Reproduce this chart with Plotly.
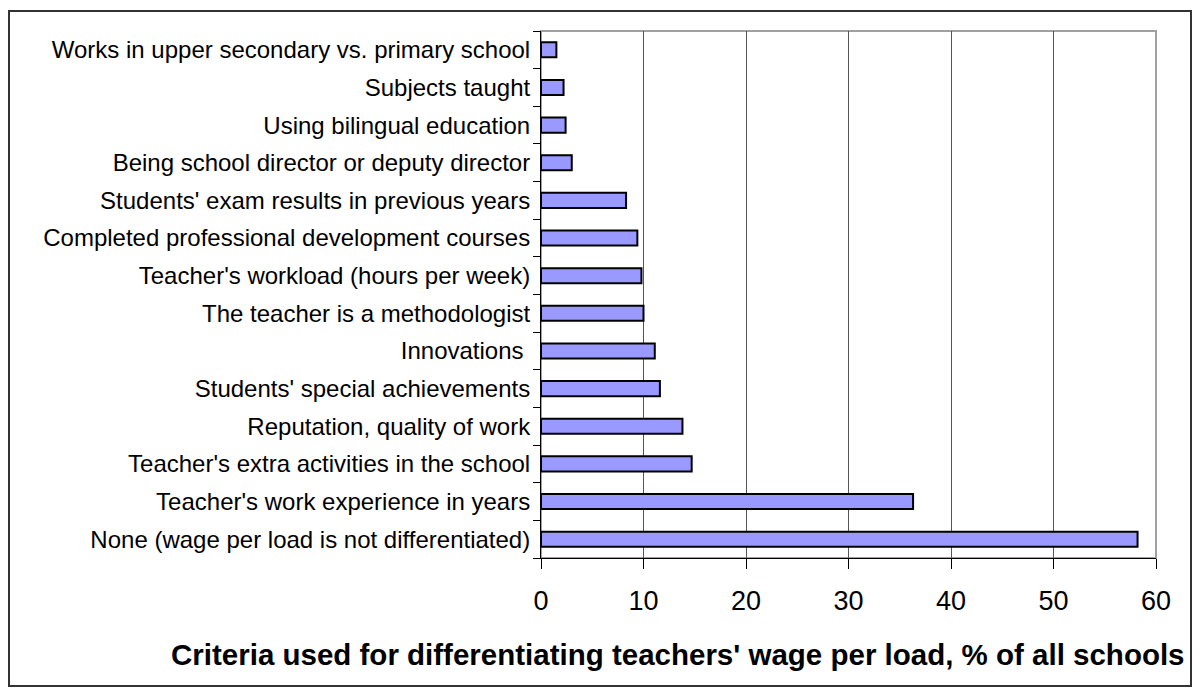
import plotly.graph_objects as go

# criteria, top of the chart first
criteria = [
    "Works in upper secondary vs. primary school",
    "Subjects taught",
    "Using bilingual education",
    "Being school director or deputy director",
    "Students' exam results in previous years",
    "Completed professional development courses",
    "Teacher's workload (hours per week)",
    "The teacher is a methodologist",
    "Innovations ",
    "Students' special achievements",
    "Reputation, quality of work",
    "Teacher's extra activities in the school",
    "Teacher's work experience in years",
    "None (wage per load is not differentiated)",
]
share_pct = [1.5, 2.2, 2.4, 3.0, 8.3, 9.4, 9.8, 10.0, 11.1, 11.6, 13.8, 14.7, 36.3, 58.2]
x_ticks = [0, 10, 20, 30, 40, 50, 60]
title_text = "Criteria used for differentiating teachers' wage per load, % of all schools"

fig = go.Figure()
fig.add_trace(go.Bar(
    x=share_pct,
    y=criteria,
    orientation="h",
    marker=dict(color="#9999FF", line=dict(color="black", width=2)),
    hoverinfo="x+y",
))

# the page has an 8px body margin: size the figure to fit inside it
# and work in page pixels minus that offset
OFF = 8
W, H = 1200 - 2 * OFF, 696 - 2 * OFF
L, R, T, B = 541 - OFF, 1156 - OFF, 31 - OFF, 558 - OFF
pw, ph = R - L, B - T

fig.update_layout(
    width=W, height=H,
    margin=dict(l=L, r=W - R, t=T, b=H - B),
    paper_bgcolor="white",
    plot_bgcolor="white",
    bargap=0.6,
    showlegend=False,
    font=dict(family="Liberation Sans, Arial", color="black"),
)

fig.update_xaxes(
    range=[0, 60],
    tickvals=x_ticks,
    ticks="outside", ticklen=10, tickcolor="black", tickwidth=1,
    showline=True, linecolor="black", linewidth=1,
    showgrid=True, gridcolor="#555555", gridwidth=1,
    zeroline=False,
    ticklabelstandoff=9,
    tickfont=dict(size=27),
)
fig.update_yaxes(
    categoryorder="array",
    categoryarray=criteria[::-1],
    tickson="boundaries",
    ticks="outside", ticklen=7, tickcolor="black", tickwidth=1,
    showline=True, linecolor="black", linewidth=1,
    showgrid=False,
    ticklabelstandoff=5,
    tickfont=dict(size=24),
)

# gray plot-area frame (top and right)
fig.add_shape(type="rect", xref="paper", yref="paper", x0=0, x1=1, y0=0, y1=1,
              line=dict(color="#a0a0a0", width=2), layer="below")
# outer chart border
bx0, bx1, by0, by1 = 1, W - 1, 11 - OFF, 686 - OFF
fig.add_shape(type="rect", xref="paper", yref="paper",
              x0=(bx0 - L) / pw, x1=(bx1 - L) / pw,
              y0=(B - by1) / ph, y1=(B - by0) / ph,
              line=dict(color="#333333", width=2), layer="below")

fig.add_annotation(
    text="<b>" + title_text + "</b>",
    xref="paper", yref="paper",
    x=(1187 - OFF - L) / pw, y=(B - (654 - OFF)) / ph,
    xanchor="right", yanchor="middle",
    showarrow=False,
    font=dict(size=29.5, color="black"),
)

fig.write_html("out.html")
